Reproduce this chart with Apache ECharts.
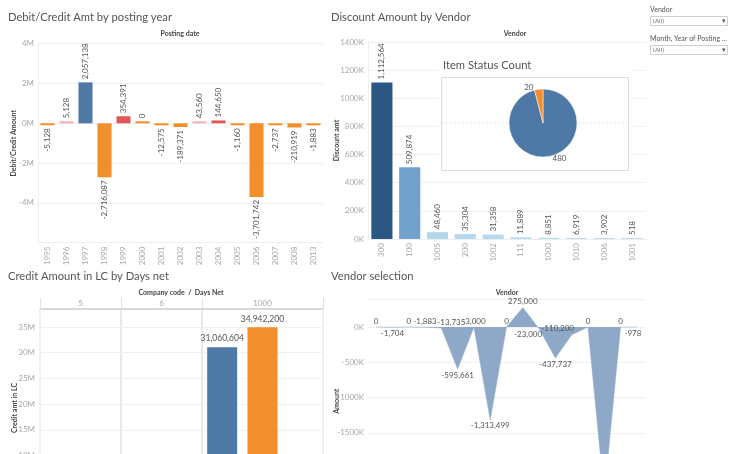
<!DOCTYPE html>
<html><head><meta charset="utf-8">
<script src="https://cdn.jsdelivr.net/npm/echarts@6/dist/echarts.min.js"></script>
<style>html,body{margin:0;padding:0;background:#fff}#c{width:736px;height:454px}</style>
</head><body><div id="c"></div>
<script>
// ---------- DATA ----------
const postingYears = ['1995','1996','1997','1998','1999','2000','2001','2002','2003','2004','2005','2006','2007','2008','2013'];
const debitCreditAmt = [-5128, 5128, 2057138, -2716087, 354391, 0, -12575, -189371, 43560, 144650, -1160, -3701742, -2737, -210919, -1883];

const discountVendors = ['300','100','1005','200','1002','111','1000','1010','1006','1001'];
const discountAmt = [1112564, 509874, 48460, 35304, 31358, 11889, 8851, 6919, 3902, 518];

const itemStatusNames = ['Cleared','Open'];
const itemStatusCount = [480, 20];

const companyCodes = ['5','6','1000'];
const daysNetByCompany = [['0','30'],['0','30'],['0','30','60']];
const creditAmtByCompany = [[null,null],[null,null],[31060604,34942200,null]];

const selVendors = ['V01','V02','V03','V04','V05','V06','V07','V08','V09','V10','V11','V12','V13','V14','V15','V16','V17'];
const selAmount = [0, -1704, 0, -1883, -13735, -595661, -3000, -1313499, 0, 275000, -23000, -437737, -110200, 0, -2380000, 0, -978];

// ---------- STYLE ----------
const FONT = 'Lato';
const T_BLUE = '#4e79a7', T_ORANGE = '#f28e2b', T_RED = '#e15759', T_PINK = '#f4b3b3';
const fmt = v => Number(v).toLocaleString('en-US');
const gridLineColor = '#f0f0f0';
const axisLabelStyle = {color:'#a8a8a8', fontSize:8, fontFamily:FONT};
const axisNameStyle = {color:'#444', fontSize:7, fontWeight:'bold', fontFamily:FONT};

function debitColor(v){
  if (v <= 0) return T_ORANGE;
  if (v > 1000000) return T_BLUE;
  if (v > 100000) return T_RED;
  return T_PINK;
}

const chart = echarts.init(document.getElementById('c'));

const G = {outerBoundsMode:'none', containLabel:false};
const grids = [
  Object.assign({left:38, top:43.7, width:285, height:199}, G),      // 0 debit/credit
  Object.assign({left:368, top:42, width:278, height:197}, G),       // 1 discount
  Object.assign({left:40, top:309, width:81, height:198, show:true, borderColor:'#e2e2e2', borderWidth:1}, G), // 2 pane 5
  Object.assign({left:121, top:309, width:81, height:198, show:true, borderColor:'#e2e2e2', borderWidth:1}, G), // 3 pane 6
  Object.assign({left:202, top:309, width:121, height:198, show:true, borderColor:'#e2e2e2', borderWidth:1}, G), // 4 pane 1000
  Object.assign({left:368, top:298.8, width:277, height:204.7}, G)   // 5 vendor selection
];

const NAME = {nameLocation:'middle', nameRotate:90, nameMoveOverlap:false, nameTextStyle:axisNameStyle};

const xAxes = [
  {gridIndex:0, type:'category', data:postingYears, axisLine:{lineStyle:{color:'#eee'}}, axisTick:{show:false},
   axisLabel:Object.assign({rotate:90, margin:4, interval:0}, axisLabelStyle)},
  {gridIndex:1, type:'category', data:discountVendors, axisLine:{lineStyle:{color:'#eee'}}, axisTick:{show:false},
   axisLabel:Object.assign({rotate:90, margin:4, interval:0}, axisLabelStyle)}
];
const yAxes = [
  Object.assign({gridIndex:0, type:'value', min:-6000000, max:4000000, interval:2000000,
   name:'Debit/Credit Amount', nameGap:21,
   axisLine:{show:true, lineStyle:{color:'#eee'}},
   axisLabel:Object.assign({margin:4, formatter:v => v === -6000000 ? '' : (v/1000000)+'M'}, axisLabelStyle),
   splitLine:{lineStyle:{color:gridLineColor}}}, NAME),
  Object.assign({gridIndex:1, type:'value', min:0, max:1400000, interval:200000,
   name:'Discount amt', nameGap:28,
   axisLine:{show:true, lineStyle:{color:'#eee'}},
   axisLabel:Object.assign({margin:4, formatter:v => (v/1000)+'K'}, axisLabelStyle),
   splitLine:{lineStyle:{color:gridLineColor}}}, NAME)
];

// credit panes
companyCodes.forEach((cc, i) => {
  const g = 2 + i;
  xAxes.push({gridIndex:g, type:'category', data:daysNetByCompany[i], axisLine:{show:false}, axisTick:{show:false}, axisLabel:{show:false}});
  xAxes.push({gridIndex:g, type:'category', position:'top', data:[cc],
    axisLine:{show:true, lineStyle:{color:'#cfcfcf', width:1.5}},
    axisTick:{show:true, length:11, lineStyle:{color:'#e2e2e2'}},
    axisLabel:Object.assign({margin:2}, axisLabelStyle)});
  yAxes.push(Object.assign({gridIndex:g, type:'value', min:0, max:38500000, interval:5000000,
    name: i === 0 ? 'Credit amt in LC' : '', nameGap:22,
    axisLine:{show:false}, axisTick:{show:false},
    axisLabel:Object.assign({show: i === 0, margin:5, formatter:v => (v % 5000000 === 0 && v > 0) ? (v/1000000)+'M' : ''}, axisLabelStyle),
    splitLine:{lineStyle:{color:gridLineColor}}}, NAME));
});

// vendor selection
xAxes.push({gridIndex:5, type:'category', data:selVendors, axisLine:{show:false}, axisTick:{show:false}, axisLabel:{show:false}});
yAxes.push(Object.assign({gridIndex:5, type:'value', min:-2500000, max:400000, interval:500000,
  name:'Amount', nameGap:28,
  axisLine:{show:false}, axisTick:{show:false},
  axisLabel:Object.assign({margin:4, formatter:v => (v % 500000 === 0) ? (v/1000)+'K' : ''}, axisLabelStyle),
  splitLine:{lineStyle:{color:gridLineColor}}}, NAME));

const dataLabel = {fontSize:8, color:'#555', fontFamily:FONT};

const series = [];
// debit/credit bars
series.push({type:'bar', xAxisIndex:0, yAxisIndex:0, barCategoryGap:'26%', barMinHeight:2,
  data: debitCreditAmt.map(v => ({value:v, itemStyle:{color:debitColor(v)},
    label: v >= 0 ? {position:'top', align:'left', verticalAlign:'middle', distance:3}
                  : {position:'bottom', align:'right', verticalAlign:'middle', distance:3}})),
  label:Object.assign({show:true, rotate:90, formatter:p => fmt(p.value)}, dataLabel)});

// discount bars
series.push({type:'bar', xAxisIndex:1, yAxisIndex:1, barCategoryGap:'24%', barMinHeight:1,
  data: discountAmt,
  label:Object.assign({show:true, position:'top', rotate:90, align:'left', verticalAlign:'middle', distance:3, formatter:p => fmt(p.value)}, dataLabel)});

// credit bars
const slotColors = [T_BLUE, T_ORANGE, T_RED];
companyCodes.forEach((cc, i) => {
  series.push({type:'bar', xAxisIndex:2 + i*2, yAxisIndex:2 + i, barWidth:30,
    data: creditAmtByCompany[i].map((v, j) => ({value:v, itemStyle:{color:slotColors[j]}})),
    label:Object.assign({show:true, position:'top', distance:4, formatter:p => fmt(p.value)}, dataLabel, {fontSize:8.5})});
});

// vendor selection area
const belowIdx = new Set([1,5,7,10,11,14,16]);
const shiftIdx = {4:10, 10:-11, 12:-14, 16:-4};
series.push({type:'line', xAxisIndex:8, yAxisIndex:5, symbol:'circle', symbolSize:0.01, showSymbol:true, silent:true,
  itemStyle:{color:'#8ea8c8'},
  lineStyle:{width:0.5, color:'#8ea8c8'}, areaStyle:{color:'#8ea8c8', opacity:1},
  data: selAmount.map((v, i) => ({value:v, label:{position: belowIdx.has(i) ? 'bottom' : 'top', offset:[shiftIdx[i] || 0, 0]}})),
  label:Object.assign({show:true, distance:2, formatter:p => fmt(p.value)}, dataLabel)});

// pie
series.push({type:'pie', z:20, center:[543,123], radius:34, startAngle:90, clockwise:true,
  data: itemStatusNames.map((n, i) => ({name:n, value:itemStatusCount[i]})),
  color:[T_BLUE, T_ORANGE],
  itemStyle:{borderColor:'#fff', borderWidth:0.5},
  label:Object.assign({show:true, position:'outside', formatter:p => fmt(p.value)}, dataLabel),
  labelLine:{show:false, length:2, length2:0}});

const txt = (x, y, text, size, color, opts) => Object.assign({type:'text', x, y, z:30,
  style:Object.assign({text, fill:color, font:`${opts && opts.bold ? 'bold ' : ''}${size}px ${FONT}`,
    align:(opts && opts.align) || 'left', textAlign:(opts && opts.align) || 'left', verticalAlign:'middle', textVerticalAlign:'middle'})});

const TS = 11.2;
const graphic = [
  // titles
  txt(8, 17.5, 'Debit/Credit Amt by posting year', TS, '#555'),
  txt(331, 17.5, 'Discount Amount by Vendor', TS, '#555'),
  txt(8, 276, 'Credit Amount in LC by Days net', TS, '#555'),
  txt(331, 276, 'Vendor selection', TS, '#555'),
  // headers
  txt(180, 34, 'Posting date', 7, '#444', {align:'center', bold:true}),
  txt(515, 34, 'Vendor', 7, '#444', {align:'center', bold:true}),
  txt(181, 293, 'Company code  /  Days Net', 7, '#444', {align:'center', bold:true}),
  txt(507, 293, 'Vendor', 7, '#444', {align:'center', bold:true}),
  // pie container
  {type:'rect', z:5, shape:{x:439, y:55, width:194, height:118}, style:{fill:'#fff'}},
  {type:'rect', z:6, shape:{x:441.5, y:77.5, width:187, height:93}, style:{fill:'#fff', stroke:'#dcdcdc', lineWidth:1}},
  {type:'line', z:7, shape:{x1:442, y1:123, x2:628, y2:123}, style:{stroke:'#e4e4e4', lineWidth:1, lineDash:[2,2]}},
  txt(443, 65, 'Item Status Count', TS, '#555'),
  // filters
  txt(650, 10, 'Vendor', 7, '#555'),
  {type:'rect', z:30, shape:{x:650.5, y:16.5, width:77, height:9}, style:{fill:'#fff', stroke:'#cfcfcf', lineWidth:1}},
  txt(653, 21, '(All)', 6.5, '#777'),
  txt(724, 21, '▾', 7, '#555', {align:'center'}),
  txt(650, 39, 'Month, Year of Posting ...', 7, '#555'),
  {type:'rect', z:30, shape:{x:650.5, y:45.5, width:77, height:9}, style:{fill:'#fff', stroke:'#cfcfcf', lineWidth:1}},
  txt(653, 50, '(All)', 6.5, '#777'),
  txt(724, 50, '▾', 7, '#555', {align:'center'})
];

chart.setOption({
  animation:false,
  textStyle:{fontFamily:FONT},
  grid:grids, xAxis:xAxes, yAxis:yAxes, series,
  visualMap:[{show:false, type:'continuous', seriesIndex:1, min:0, max:1112564, inRange:{color:['#b9ddf1','#6b9dc8','#2a5783']}}],
  graphic
});
</script>
</body></html>
